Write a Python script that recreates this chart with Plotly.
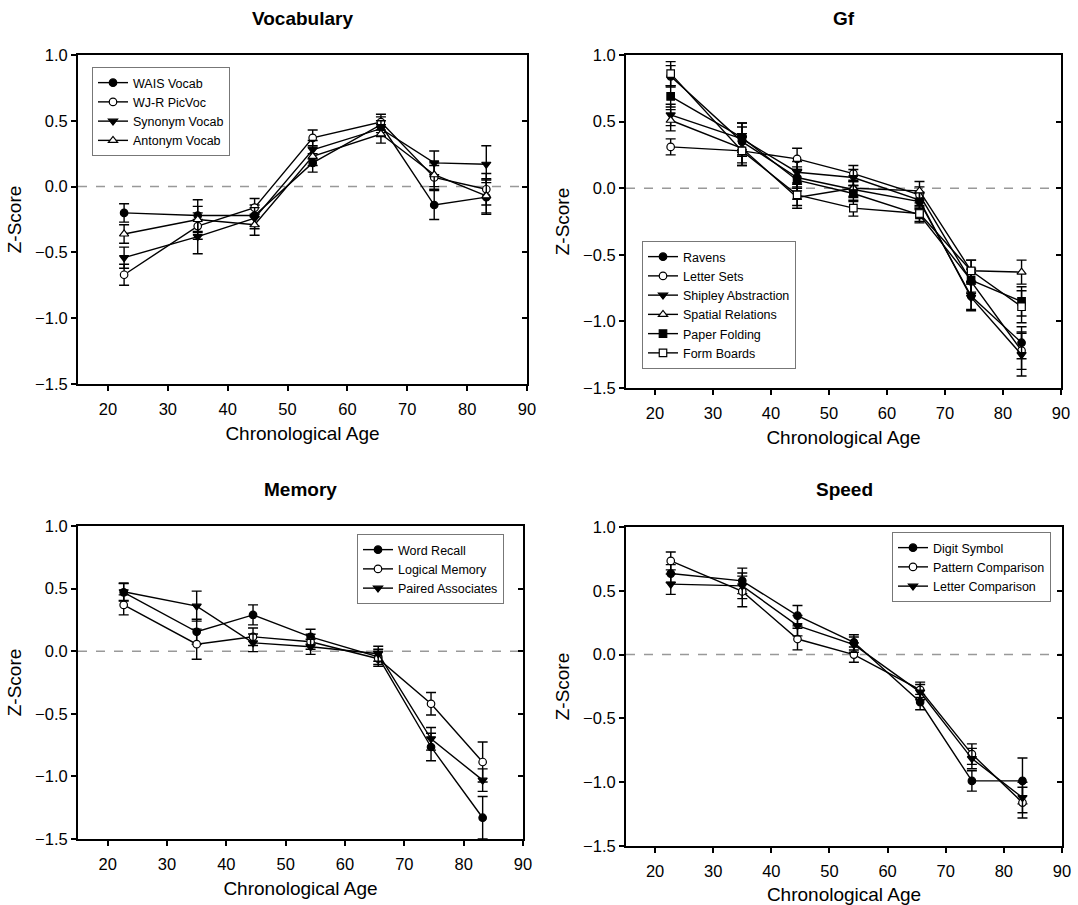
import plotly.graph_objects as go

# ---------------- data ----------------
ages = [22.7, 35.0, 44.5, 54.2, 65.6, 74.5, 83.2]

# Vocabulary
wais_vocab = [-0.20, -0.22, -0.22, 0.18, 0.47, -0.14, -0.08]
wais_vocab_err = [0.07, 0.12, 0.08, 0.07, 0.06, 0.11, 0.13]
wjr_picvoc = [-0.67, -0.30, -0.16, 0.37, 0.49, 0.07, -0.02]
wjr_picvoc_err = [0.08, 0.10, 0.07, 0.06, 0.06, 0.09, 0.12]
synonym_vocab = [-0.54, -0.38, -0.24, 0.28, 0.44, 0.18, 0.17]
synonym_vocab_err = [0.08, 0.13, 0.08, 0.07, 0.06, 0.09, 0.14]
antonym_vocab = [-0.36, -0.25, -0.29, 0.23, 0.40, 0.09, -0.07]
antonym_vocab_err = [0.07, 0.10, 0.08, 0.07, 0.07, 0.09, 0.13]

# Gf
ravens = [0.84, 0.35, 0.08, -0.01, -0.10, -0.81, -1.16]
ravens_err = [0.08, 0.11, 0.08, 0.06, 0.06, 0.10, 0.12]
letter_sets = [0.31, 0.28, 0.22, 0.11, -0.05, -0.70, -1.22]
letter_sets_err = [0.06, 0.11, 0.08, 0.06, 0.06, 0.09, 0.14]
shipley = [0.55, 0.37, 0.12, 0.08, -0.09, -0.82, -1.25]
shipley_err = [0.08, 0.12, 0.08, 0.06, 0.06, 0.10, 0.16]
spatial_rel = [0.51, 0.30, -0.07, 0.00, -0.02, -0.62, -0.63]
spatial_rel_err = [0.08, 0.11, 0.08, 0.06, 0.07, 0.08, 0.09]
paper_folding = [0.69, 0.38, 0.06, -0.04, -0.20, -0.69, -0.85]
paper_folding_err = [0.08, 0.11, 0.08, 0.06, 0.06, 0.09, 0.11]
form_boards = [0.86, 0.28, -0.05, -0.15, -0.19, -0.62, -0.89]
form_boards_err = [0.09, 0.11, 0.08, 0.06, 0.06, 0.08, 0.12]

# Memory
word_recall = [0.47, 0.155, 0.29, 0.115, -0.045, -0.765, -1.33]
word_recall_err = [0.07, 0.10, 0.08, 0.06, 0.06, 0.11, 0.17]
logical_memory = [0.37, 0.056, 0.115, 0.075, -0.06, -0.42, -0.885]
logical_memory_err = [0.08, 0.12, 0.07, 0.06, 0.06, 0.09, 0.16]
paired_assoc = [0.475, 0.36, 0.067, 0.035, -0.02, -0.70, -1.03]
paired_assoc_err = [0.07, 0.12, 0.07, 0.06, 0.06, 0.09, 0.09]

# Speed
digit_symbol = [0.635, 0.578, 0.305, 0.096, -0.372, -0.99, -0.99]
digit_symbol_err = [0.07, 0.10, 0.08, 0.06, 0.06, 0.08, 0.18]
pattern_comp = [0.734, 0.495, 0.122, 0.0, -0.276, -0.78, -1.16]
pattern_comp_err = [0.07, 0.12, 0.085, 0.06, 0.06, 0.08, 0.12]
letter_comp = [0.552, 0.539, 0.227, 0.078, -0.294, -0.815, -1.12]
letter_comp_err = [0.08, 0.10, 0.08, 0.06, 0.06, 0.08, 0.12]

panel_titles = ["Vocabulary", "Gf", "Memory", "Speed"]
x_title = "Chronological Age"
y_title = "Z-Score"

# ---------------- figure ----------------
W, H = 1078, 905
FONT = "Liberation Sans, Arial, Helvetica, sans-serif"

def fx(px):
    return px / W

def fy(py):
    return 1 - py / H

# panel pixel boxes: (left, right, top, bottom)
boxes = [(78, 527, 55, 384), (626, 1061, 55, 388), (78, 523, 526, 839), (626, 1062, 527, 846)]

FILLED = "black"
OPEN = "white"
styles = {
    "circle_f": dict(symbol="circle", color=FILLED),
    "circle_o": dict(symbol="circle", color=OPEN),
    "tridown_f": dict(symbol="triangle-down", color=FILLED),
    "triup_o": dict(symbol="triangle-up", color=OPEN),
    "square_f": dict(symbol="square", color=FILLED),
    "square_o": dict(symbol="square", color=OPEN),
}

panels = [
    [("WAIS Vocab", wais_vocab, wais_vocab_err, "circle_f"),
     ("WJ-R PicVoc", wjr_picvoc, wjr_picvoc_err, "circle_o"),
     ("Synonym Vocab", synonym_vocab, synonym_vocab_err, "tridown_f"),
     ("Antonym Vocab", antonym_vocab, antonym_vocab_err, "triup_o")],
    [("Ravens", ravens, ravens_err, "circle_f"),
     ("Letter Sets", letter_sets, letter_sets_err, "circle_o"),
     ("Shipley Abstraction", shipley, shipley_err, "tridown_f"),
     ("Spatial Relations", spatial_rel, spatial_rel_err, "triup_o"),
     ("Paper Folding", paper_folding, paper_folding_err, "square_f"),
     ("Form Boards", form_boards, form_boards_err, "square_o")],
    [("Word Recall", word_recall, word_recall_err, "circle_f"),
     ("Logical Memory", logical_memory, logical_memory_err, "circle_o"),
     ("Paired Associates", paired_assoc, paired_assoc_err, "tridown_f")],
    [("Digit Symbol", digit_symbol, digit_symbol_err, "circle_f"),
     ("Pattern Comparison", pattern_comp, pattern_comp_err, "circle_o"),
     ("Letter Comparison", letter_comp, letter_comp_err, "tridown_f")],
]

# legend pixel positions (left, top)
legend_pos = [(92, 67), (642, 241), (357, 534), (892, 532)]

fig = go.Figure()
layout = dict(
    width=W, height=H, margin=dict(l=0, r=0, t=0, b=0, autoexpand=False),
    paper_bgcolor="white", plot_bgcolor="white",
    font=dict(family=FONT, color="black"),
    showlegend=True, annotations=[], shapes=[],
)

for i, (box, series) in enumerate(zip(boxes, panels)):
    n = i + 1
    xa = "x" if n == 1 else f"x{n}"
    ya = "y" if n == 1 else f"y{n}"
    lg = "legend" if n == 1 else f"legend{n}"
    for name, vals, errs, st in series:
        s = styles[st]
        sz = 8 if "triangle" in s["symbol"] else 7.5
        fig.add_trace(go.Scatter(
            x=ages, y=vals, name=name, mode="lines+markers",
            xaxis=xa, yaxis=ya, legend=lg,
            line=dict(color="black", width=1.4),
            marker=dict(symbol=s["symbol"], size=sz, color=s["color"],
                        line=dict(color="black", width=1.2)),
            error_y=dict(type="data", array=errs, visible=True,
                         color="black", thickness=1.4, width=5),
        ))
    l, r, t, b = box
    axis_common = dict(showgrid=False, zeroline=False, linecolor="black",
                       linewidth=2, ticks="outside", ticklen=5, tickwidth=1.5,
                       tickcolor="black", tickfont=dict(size=16.5, family=FONT),
                       automargin=False)
    layout[f"xaxis{'' if n == 1 else n}"] = dict(
        domain=[fx(l), fx(r)], anchor=ya, range=[15, 90], tick0=0, dtick=10,
        mirror=True, ticklabelstandoff=4,
        title=dict(text=x_title, font=dict(size=19, family=FONT), standoff=10),
        **axis_common)
    layout[f"yaxis{'' if n == 1 else n}"] = dict(
        domain=[fy(b), fy(t)], anchor=xa, range=[-1.5, 1.0], dtick=0.5,
        tickformat=".1f", mirror=True,
        title=dict(text=y_title, font=dict(size=19, family=FONT), standoff=8),
        **axis_common)
    # inner ticks on right side
    layout[f"yaxis{n + 4}"] = dict(
        overlaying=ya, anchor=xa, side="right", range=[-1.5, 1.0], dtick=0.5,
        ticks="inside", ticklen=5, tickwidth=1.5, tickcolor="black",
        showticklabels=False, showgrid=False, zeroline=False, showline=False)
    fig.add_trace(go.Scatter(x=[], y=[], xaxis=xa, yaxis=f"y{n + 4}",
                             showlegend=False, hoverinfo="skip"))
    # zero reference line
    layout["shapes"].append(dict(type="line", xref=f"{xa} domain", yref=ya,
                                 x0=0, x1=1, y0=0, y1=0, layer="below",
                                 line=dict(color="#999999", width=1.5, dash="dash")))
    # panel title
    layout["annotations"].append(dict(text=f"<b>{panel_titles[i]}</b>", xref="paper", yref="paper",
                                      x=fx((l + r) / 2), y=fy(t - 37), xanchor="center", yanchor="middle",
                                      showarrow=False, font=dict(size=19, family=FONT)))
    lx, ly = legend_pos[i]
    layout[lg] = dict(x=fx(lx), y=fy(ly), xanchor="left", yanchor="top",
                      bgcolor="white", bordercolor="#777777", borderwidth=1,
                      font=dict(size=12.5, family=FONT), tracegroupgap=0,
                      itemwidth=30)

fig.update_layout(**layout)
fig.write_html("out.html", config={"displayModeBar": False},
               post_script="document.body.style.margin='0';document.body.style.overflow='hidden';")
